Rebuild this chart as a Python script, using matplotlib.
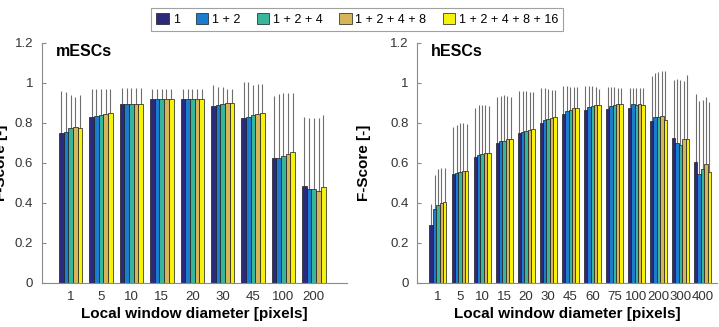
import matplotlib
matplotlib.use('Agg')
import matplotlib.pyplot as plt
import numpy as np

plt.rcParams['font.family'] = ['Liberation Sans', 'DejaVu Sans']

series = ['1', '1 + 2', '1 + 2 + 4', '1 + 2 + 4 + 8', '1 + 2 + 4 + 8 + 16']
colors = ['#2c2a7c', '#1b7dd0', '#38b69c', '#d6b45a', '#f6f20c']

# mESCs
m_labels = ['1', '5', '10', '15', '20', '30', '45', '100', '200']
m_vals = [
    [0.748, 0.757, 0.773, 0.778, 0.777],
    [0.832, 0.837, 0.840, 0.843, 0.848],
    [0.893, 0.895, 0.897, 0.897, 0.895],
    [0.918, 0.920, 0.920, 0.918, 0.918],
    [0.918, 0.920, 0.920, 0.922, 0.922],
    [0.885, 0.890, 0.893, 0.898, 0.902],
    [0.827, 0.828, 0.840, 0.843, 0.848],
    [0.627, 0.627, 0.635, 0.643, 0.653],
    [0.487, 0.472, 0.468, 0.461, 0.479],
]
m_err_top = [
    [0.960, 0.955, 0.940, 0.930, 0.940],
    [0.970, 0.972, 0.970, 0.968, 0.970],
    [0.977, 0.977, 0.975, 0.975, 0.975],
    [0.972, 0.972, 0.972, 0.972, 0.970],
    [0.972, 0.972, 0.972, 0.972, 0.972],
    [0.990, 0.982, 0.978, 0.972, 0.968],
    [1.003, 1.007, 0.990, 0.995, 0.995],
    [0.937, 0.943, 0.948, 0.948, 0.948],
    [0.832, 0.827, 0.827, 0.827, 0.840],
]

# hESCs
h_labels = ['1', '5', '10', '15', '20', '30', '45', '60', '75', '100', '200', '300', '400']
h_vals = [
    [0.290, 0.372, 0.392, 0.400, 0.404],
    [0.543, 0.551, 0.556, 0.560, 0.560],
    [0.630, 0.641, 0.645, 0.651, 0.650],
    [0.701, 0.708, 0.711, 0.718, 0.719],
    [0.748, 0.754, 0.758, 0.764, 0.768],
    [0.801, 0.813, 0.818, 0.826, 0.831],
    [0.845, 0.859, 0.867, 0.875, 0.875],
    [0.864, 0.879, 0.884, 0.889, 0.892],
    [0.872, 0.887, 0.892, 0.895, 0.895],
    [0.875, 0.895, 0.892, 0.895, 0.890],
    [0.809, 0.829, 0.829, 0.834, 0.814],
    [0.723, 0.698, 0.688, 0.718, 0.718],
    [0.605, 0.546, 0.568, 0.596, 0.556],
]
h_err_top = [
    [0.394, 0.540, 0.568, 0.576, 0.576],
    [0.779, 0.789, 0.800, 0.800, 0.796],
    [0.875, 0.889, 0.892, 0.889, 0.884],
    [0.930, 0.937, 0.939, 0.934, 0.930],
    [0.959, 0.962, 0.959, 0.955, 0.955],
    [0.975, 0.975, 0.972, 0.967, 0.967],
    [0.983, 0.987, 0.978, 0.978, 0.978],
    [0.984, 0.984, 0.984, 0.979, 0.972],
    [0.979, 0.979, 0.980, 0.975, 0.975],
    [0.975, 0.975, 0.975, 0.975, 0.977],
    [1.033, 1.050, 1.055, 1.058, 1.062],
    [1.017, 1.022, 1.017, 1.012, 1.038],
    [0.945, 0.912, 0.917, 0.929, 0.905],
]


def panel(ax, labels, vals, tops, title, xmax):
    vals = np.array(vals)
    tops = np.array(tops)
    x = np.arange(1, len(labels) + 1)
    gw = 0.77
    w = gw / 5
    bars = []
    for i in range(5):
        xs = x - gw / 2 + w / 2 + i * w
        b = ax.bar(xs, vals[:, i], width=w, color=colors[i], edgecolor='#1a1a1a',
                   linewidth=0.5, zorder=2, label=series[i])
        ax.vlines(xs, vals[:, i], tops[:, i], color='#6e6e6e', linewidth=0.8, zorder=1)
        bars.append(b)
    ax.set_xlim(0.05, xmax)
    ax.set_ylim(0, 1.2)
    ax.set_xticks(x)
    ax.set_xticklabels(labels)
    ax.set_yticks([0, 0.2, 0.4, 0.6, 0.8, 1, 1.2])
    ax.set_yticklabels(['0', '0.2', '0.4', '0.6', '0.8', '1', '1.2'])
    for s in ['top', 'right']:
        ax.spines[s].set_visible(False)
    for s in ['left', 'bottom']:
        ax.spines[s].set_color('#8a8a8a')
        ax.spines[s].set_linewidth(0.8)
    ax.tick_params(axis='x', length=0, labelsize=9.5, colors='#333333', pad=6)
    ax.tick_params(axis='y', direction='in', length=3, labelsize=9.5, colors='#333333',
                   pad=6, color='#8a8a8a')
    ax.set_xlabel('Local window diameter [pixels]', fontsize=11, fontweight='bold',
                  labelpad=3)
    ax.set_ylabel('F-Score [-]', fontsize=11, fontweight='bold')
    ax.text(0.045, 0.995, title, transform=ax.transAxes, fontsize=11.5,
            fontweight='bold', va='top', ha='left')
    return bars


fig = plt.figure(figsize=(7.19, 3.27), dpi=100)
ax1 = fig.add_axes([0.058, 0.1346, 0.425, 0.734])
ax2 = fig.add_axes([0.580, 0.1346, 0.417, 0.734])

bars = panel(ax1, m_labels, m_vals, m_err_top, 'mESCs', 10.1)
panel(ax2, h_labels, h_vals, h_err_top, 'hESCs', 13.65)
ax1.yaxis.set_label_coords(-0.11, 0.5)
ax2.yaxis.set_label_coords(-0.155, 0.5)

leg = fig.legend(bars, series, loc='upper center', bbox_to_anchor=(0.497, 0.995),
                 ncol=5, fontsize=9, frameon=True, fancybox=False,
                 handlelength=1.0, handleheight=1.0, handletextpad=0.3,
                 columnspacing=1.3, borderpad=0.4)
leg.get_frame().set_edgecolor('#8a8a8a')
leg.get_frame().set_linewidth(0.8)

fig.savefig('out.png', dpi=100)
